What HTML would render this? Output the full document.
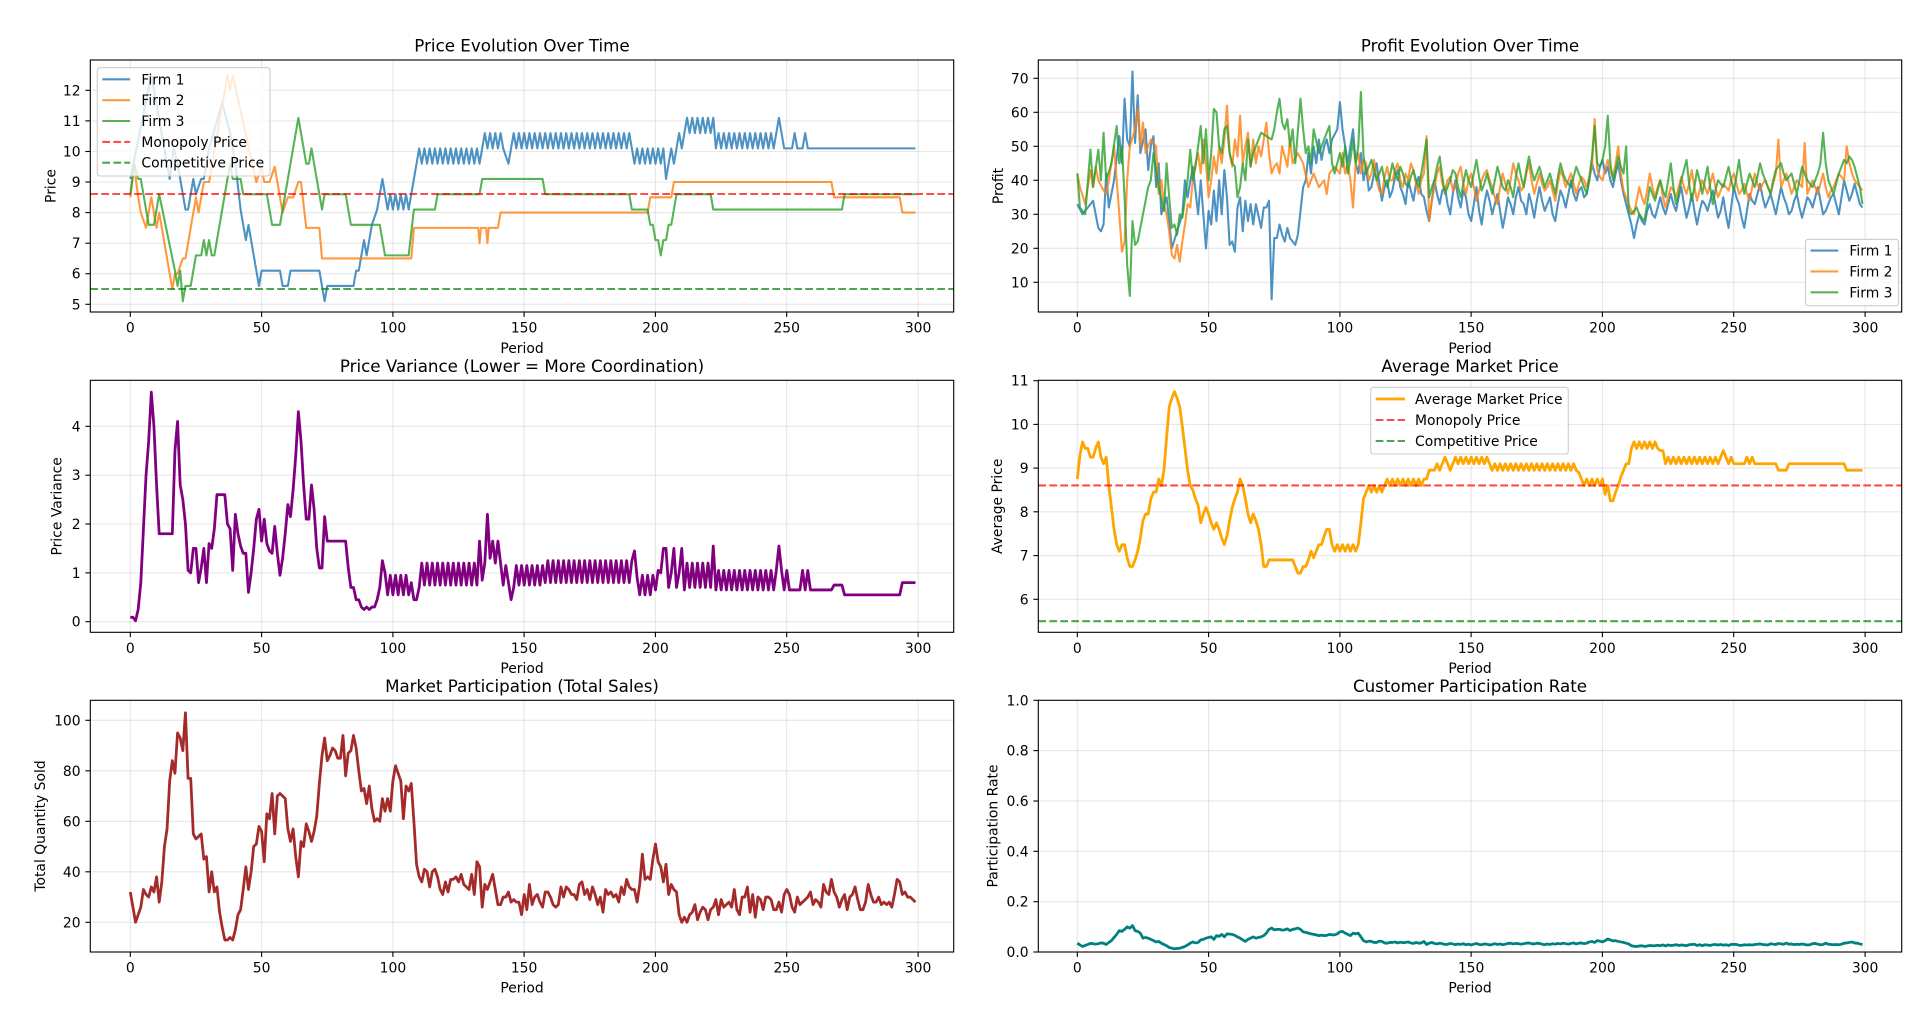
<!DOCTYPE html>
<html><head><meta charset="utf-8"><style>
html,body{margin:0;padding:0;background:#fff;}
svg{display:block;}
text{font-family:"DejaVu Sans","Liberation Sans",sans-serif;fill:#000;}
.tk{font-size:13.9px;}
.ttl{font-size:16.7px;}
.grid line{stroke:#b0b0b0;stroke-opacity:.3;stroke-width:1.1;}
.tick line{stroke:#000;stroke-width:1.1;}
.frame{fill:none;stroke:#000;stroke-width:1.1;}
.ln{fill:none;vector-effect:non-scaling-stroke;stroke-linejoin:round;stroke-linecap:butt;}
</style></head><body>
<svg width="1920" height="1015" viewBox="0 0 1920 1015" xmlns="http://www.w3.org/2000/svg">
<rect width="1920" height="1015" fill="#fff"/>
<defs>
<clipPath id="cA"><rect x="90.3" y="60" width="863.4" height="252"/></clipPath>
<clipPath id="cB"><rect x="1038.3" y="60" width="863.4" height="252"/></clipPath>
<clipPath id="cC"><rect x="90.3" y="380.3" width="863.4" height="252"/></clipPath>
<clipPath id="cD"><rect x="1038.3" y="380.3" width="863.4" height="252"/></clipPath>
<clipPath id="cE"><rect x="90.3" y="700.3" width="863.4" height="251.7"/></clipPath>
<clipPath id="cF"><rect x="1038.3" y="700.3" width="863.4" height="251.7"/></clipPath>
</defs>

<!-- ============ A: Price Evolution ============ -->
<g class="grid">
<line x1="130.3" y1="60" x2="130.3" y2="312"/><line x1="261.6" y1="60" x2="261.6" y2="312"/><line x1="392.9" y1="60" x2="392.9" y2="312"/><line x1="524.1" y1="60" x2="524.1" y2="312"/><line x1="655.4" y1="60" x2="655.4" y2="312"/><line x1="786.7" y1="60" x2="786.7" y2="312"/><line x1="918.1" y1="60" x2="918.1" y2="312"/>
<line x1="90.3" y1="304.3" x2="953.7" y2="304.3"/><line x1="90.3" y1="273.7" x2="953.7" y2="273.7"/><line x1="90.3" y1="243.2" x2="953.7" y2="243.2"/><line x1="90.3" y1="212.6" x2="953.7" y2="212.6"/><line x1="90.3" y1="182" x2="953.7" y2="182"/><line x1="90.3" y1="151.5" x2="953.7" y2="151.5"/><line x1="90.3" y1="120.9" x2="953.7" y2="120.9"/><line x1="90.3" y1="90.3" x2="953.7" y2="90.3"/>
</g>
<g clip-path="url(#cA)">
<g transform="translate(130.3 457.15) scale(2.626 -30.57)">
<path class="ln" stroke="#1f77b4" stroke-opacity=".8" stroke-width="2.08" d="M0 9.1 L8 12.5 L15 9.1 L16.5 10.1 L18 9.6 L20 8.6 L21 8.1 L22 8.1 L24 9.1 L25 8.6 L27 9.1 L28 9.1 L30 10.1 L35 11.6 L38 10.6 L40 9.6 L42 8.1 L44 7.1 L45 7.6 L49 5.6 L50 6.1 L57 6.1 L58 5.6 L60 5.6 L61 6.1 L72 6.1 L74 5.1 L75 5.6 L85 5.6 L86 6.1 L87 6.1 L89 7.1 L90 6.6 L92 7.6 L94 8.1 L96 9.1 L98 8.1 l1 .5 1 -.5 1 .5 1 -.5 1 .5 1 -.5 1 .5 1 -.5 L107 8.6 L110 10.1 l1 -.5 1 .5 1 -.5 1 .5 1 -.5 1 .5 1 -.5 1 .5 1 -.5 1 .5 1 -.5 1 .5 1 -.5 1 .5 1 -.5 1 .5 1 -.5 1 .5 1 -.5 1 .5 1 -.5 1 .5 1 -.5 1 .5 L135 10.6 l1 -.5 1 .5 1 -.5 1 .5 1 -.5 1 .5 L142 10.1 L144 9.6 L146 10.6 l1 -.5 1 .5 1 -.5 1 .5 1 -.5 1 .5 1 -.5 1 .5 1 -.5 1 .5 1 -.5 1 .5 1 -.5 1 .5 1 -.5 1 .5 1 -.5 1 .5 1 -.5 1 .5 1 -.5 1 .5 1 -.5 1 .5 1 -.5 1 .5 1 -.5 1 .5 1 -.5 1 .5 1 -.5 1 .5 1 -.5 1 .5 1 -.5 1 .5 1 -.5 1 .5 1 -.5 1 .5 1 -.5 1 .5 1 -.5 1 .5 L191 10.1 l1 -.5 1 .5 1 -.5 1 .5 1 -.5 1 .5 1 -.5 1 .5 1 -.5 1 .5 1 -.5 1 .5 L204 9.1 L206 10.1 L207 9.6 L209 10.6 L210 10.1 L212 11.1 l1 -.5 1 .5 1 -.5 1 .5 1 -.5 1 .5 1 -.5 1 .5 1 -.5 1 .5 L223 10.1 l1 .5 1 -.5 1 .5 1 -.5 1 .5 1 -.5 1 .5 1 -.5 1 .5 1 -.5 1 .5 1 -.5 1 .5 1 -.5 1 .5 1 -.5 1 .5 1 -.5 1 .5 1 -.5 1 .5 1 -.5 L247 11.1 L249 10.1 L252 10.1 L253 10.6 L254 10.1 L256 10.1 L257 10.6 L258 10.1 L299 10.1"/>
<path class="ln" stroke="#ff7f0e" stroke-opacity=".8" stroke-width="2.08" d="M0 8.5 L1.5 9.5 L3 8.5 L4 8 L6 7.5 L8 8.5 L10 7.5 L11 8 L16 5.5 L17 6 L18 6 L20 6.5 L21 6.5 L25 8.5 L26 8 L28 9 L30 9 L37 12.5 L38 12 L39 12.5 L48 9 L50 9.5 L51 9 L53 9 L55 9.5 L58 8 L60 8.5 L62 8.5 L64 9 L65 9 L67 7.5 L72 7.5 L73 6.5 L107 6.5 L108 7.5 L132.5 7.5 L133 7 L133.5 7.5 L135.5 7.5 L136 7 L136.5 7.5 L140 7.5 L141 8 L197 8 L198 8.5 L206 8.5 L207 9 L267 9 L268 8.5 L293 8.5 L294 8 L299 8"/>
<path class="ln" stroke="#2ca02c" stroke-opacity=".8" stroke-width="2.08" d="M0 8.6 L1.5 9.6 L3 9.1 L4 9.1 L5 8.6 L7 7.6 L9 7.6 L11 8.6 L17 6.1 L18 5.6 L19 6.1 L20 5.1 L21 5.6 L23 5.6 L25 6.6 L27 6.6 L28 7.1 L29 6.6 L30 7.1 L31 6.6 L32 6.6 L38 9.6 L39 9.1 L42 9.1 L43 8.6 L52 8.6 L54 7.6 L57 7.6 L64 11.1 L67 9.6 L68 9.6 L69 10.1 L73 8.1 L74 8.6 L82 8.6 L84 7.6 L95 7.6 L97 6.6 L106 6.6 L108 8.1 L116 8.1 L117 8.6 L133 8.6 L134 9.1 L157 9.1 L158 8.6 L190 8.6 L191 8.1 L197 8.1 L198 7.6 L199 7.6 L200 7.1 L201 7.1 L202 6.6 L203 7.1 L204 7.1 L205 7.6 L206 7.6 L208 8.6 L221 8.6 L222 8.1 L271 8.1 L272 8.6 L299 8.6"/>
</g>
<line x1="90.3" y1="194" x2="953.7" y2="194" stroke="#ff0000" stroke-opacity=".7" stroke-width="2.08" stroke-dasharray="7.7 3.3"/>
<line x1="90.3" y1="289" x2="953.7" y2="289" stroke="#008000" stroke-opacity=".7" stroke-width="2.08" stroke-dasharray="7.7 3.3"/>
</g>
<rect class="frame" x="90.3" y="60" width="863.4" height="252"/>
<g class="tick">
<line x1="130.3" y1="312" x2="130.3" y2="316.9"/><line x1="261.6" y1="312" x2="261.6" y2="316.9"/><line x1="392.9" y1="312" x2="392.9" y2="316.9"/><line x1="524.1" y1="312" x2="524.1" y2="316.9"/><line x1="655.4" y1="312" x2="655.4" y2="316.9"/><line x1="786.7" y1="312" x2="786.7" y2="316.9"/><line x1="918.1" y1="312" x2="918.1" y2="316.9"/>
<line x1="85.4" y1="304.3" x2="90.3" y2="304.3"/><line x1="85.4" y1="273.7" x2="90.3" y2="273.7"/><line x1="85.4" y1="243.2" x2="90.3" y2="243.2"/><line x1="85.4" y1="212.6" x2="90.3" y2="212.6"/><line x1="85.4" y1="182" x2="90.3" y2="182"/><line x1="85.4" y1="151.5" x2="90.3" y2="151.5"/><line x1="85.4" y1="120.9" x2="90.3" y2="120.9"/><line x1="85.4" y1="90.3" x2="90.3" y2="90.3"/>
</g>
<g class="tk" text-anchor="middle">
<text x="130.3" y="332.5">0</text><text x="261.6" y="332.5">50</text><text x="392.9" y="332.5">100</text><text x="524.1" y="332.5">150</text><text x="655.4" y="332.5">200</text><text x="786.7" y="332.5">250</text><text x="918.1" y="332.5">300</text>
</g>
<g class="tk" text-anchor="end">
<text x="80.6" y="309.3">5</text><text x="80.6" y="278.7">6</text><text x="80.6" y="248.2">7</text><text x="80.6" y="217.6">8</text><text x="80.6" y="187">9</text><text x="80.6" y="156.5">10</text><text x="80.6" y="125.9">11</text><text x="80.6" y="95.3">12</text>
</g>
<text class="ttl" x="522" y="51.7" text-anchor="middle">Price Evolution Over Time</text>
<text class="tk" x="522" y="353" text-anchor="middle">Period</text>
<text class="tk" transform="translate(55.5 186) rotate(-90)" text-anchor="middle">Price</text>
<!-- legend A -->
<rect x="97.3" y="67.7" width="172.7" height="108.3" rx="2.8" fill="#fff" fill-opacity=".8" stroke="#cccccc" stroke-width="1.1"/>
<line x1="102.3" y1="79.3" x2="130.1" y2="79.3" stroke="#1f77b4" stroke-opacity=".8" stroke-width="2.08"/>
<line x1="102.3" y1="100.2" x2="130.1" y2="100.2" stroke="#ff7f0e" stroke-opacity=".8" stroke-width="2.08"/>
<line x1="102.3" y1="121" x2="130.1" y2="121" stroke="#2ca02c" stroke-opacity=".8" stroke-width="2.08"/>
<line x1="102.3" y1="141.9" x2="130.1" y2="141.9" stroke="#ff0000" stroke-opacity=".7" stroke-width="2.08" stroke-dasharray="7.7 3.3"/>
<line x1="102.3" y1="162.7" x2="130.1" y2="162.7" stroke="#008000" stroke-opacity=".7" stroke-width="2.08" stroke-dasharray="7.7 3.3"/>
<g class="tk"><text x="141.4" y="84.3">Firm 1</text><text x="141.4" y="105.2">Firm 2</text><text x="141.4" y="126">Firm 3</text><text x="141.4" y="146.9">Monopoly Price</text><text x="141.4" y="167.7">Competitive Price</text></g>

<!-- ============ B: Profit Evolution ============ -->
<g class="grid">
<line x1="1077.3" y1="60" x2="1077.3" y2="312"/><line x1="1208.6" y1="60" x2="1208.6" y2="312"/><line x1="1339.9" y1="60" x2="1339.9" y2="312"/><line x1="1471.1" y1="60" x2="1471.1" y2="312"/><line x1="1602.4" y1="60" x2="1602.4" y2="312"/><line x1="1733.7" y1="60" x2="1733.7" y2="312"/><line x1="1865.1" y1="60" x2="1865.1" y2="312"/>
<line x1="1038.3" y1="282.3" x2="1901.7" y2="282.3"/><line x1="1038.3" y1="248.3" x2="1901.7" y2="248.3"/><line x1="1038.3" y1="214.3" x2="1901.7" y2="214.3"/><line x1="1038.3" y1="180.3" x2="1901.7" y2="180.3"/><line x1="1038.3" y1="146.3" x2="1901.7" y2="146.3"/><line x1="1038.3" y1="112.3" x2="1901.7" y2="112.3"/><line x1="1038.3" y1="78.3" x2="1901.7" y2="78.3"/>
</g>
<g clip-path="url(#cB)">
<g transform="translate(1077.3 316.3) scale(2.626 -3.4)">
<path class="ln" stroke="#1f77b4" stroke-opacity=".8" stroke-width="2.08" d="M0 33 2 30 4 32 6 34 8 26 9 25 10 27 11 42 12 32 14 40 16 53 17 45 18 64 19 52 20 50 21 72 22 51 23 65 24 48 26 55 27 43 28 50 29 53 30 38 31 45 32 30 34 35 35 28 36 20 38 25 40 30 41 40 42 35 44 44 46 30 47 40 49 20 50 31 51 27 52 37 53 28 54 40 55 30 56 43 57 35 58 21 59 22 60 19 61 32 62 35 63 25 64 34 65 28 66 33 67 27 68 33 70 26 71 32 72 32 73 34 74 5 75 23 76 23 77 27 78 24 79 22 80 26 81 23 83 21 84 24 86 38 87 40 88 48 89 42 90 50 91 45 92 52 93 46 94 50 95 52 96 48 97 52 99 55 100 63 101 55 103 45 104 50 105 55 106 45 107 42 108 48 109 40 110 44 111 37 112 38 113 42 114 45 115 39 116 34 117 38 118 40 119 35 120 37 121 41 122 43 123 38 124 36 125 33 126 40 127 37 128 34 129 39 130 41 131 36 132 35 133 31 134 28 135 34 136 40 137 36 138 33 139 37 140 38 141 33 142 30 143 36 144 40 145 35 146 32 147 37 148 35 149 30 150 28 151 33 152 38 153 31 154 27 155 33 156 37 157 34 158 30 159 33 160 36 161 31 162 26 163 30 164 35 165 33 166 30 167 35 168 38 169 34 170 33 171 30 172 36 173 33 174 29 175 34 176 38 177 34 178 31 179 33 180 35 181 30 182 28 183 33 184 37 185 35 186 32 187 36 188 40 189 36 190 34 191 37 192 38 193 35 194 36 195 40 196 45 197 42 198 40 199 44 200 46 201 42 202 44 203 40 204 38 205 42 206 45 207 40 208 36 209 33 210 30 211 27 212 23 213 27 214 30 215 28 216 27 217 31 218 33 219 30 220 29 221 32 222 35 223 32 224 30 225 33 226 36 227 33 228 31 229 35 230 38 231 33 232 29 233 32 234 36 235 31 236 27 237 31 238 34 239 33 240 31 241 34 242 37 243 33 244 29 245 31 246 35 247 30 248 26 249 32 250 38 251 35 252 33 253 29 254 26 255 31 256 36 257 34 258 33 259 36 260 39 261 35 262 32 263 34 264 36 265 33 266 30 267 34 268 38 269 35 270 33 271 30 272 31 273 34 274 36 275 32 276 29 277 32 278 35 279 34 280 32 281 35 282 38 283 34 284 30 285 31 286 33 287 35 288 36 289 33 290 30 291 35 292 40 293 37 294 34 295 36 296 39 297 36 298 33 299 32"/>
<path class="ln" stroke="#ff7f0e" stroke-opacity=".8" stroke-width="2.08" d="M0 42 1 38 3 33 5 43 6 38 7 44 8 40 10 37 11 36 12 40 13 45 14 50 15 40 16 30 17 19 18 22 19 40 20 50 22 55 23 61 24 50 25 57 26 48 28 52 30 50 31 36 32 40 33 33 34 30 35 25 36 18 37 17 38 21 39 16 40 22 41 27 42 33 43 32 44 40 45 45 46 48 47 42 48 52 49 45 50 35 51 40 52 47 53 42 54 50 55 45 56 52 57 62 58 48 59 44 60 52 61 47 62 59 63 45 64 50 65 54 66 44 67 52 68 45 69 50 70 47 71 52 72 57 73 48 74 42 75 44 76 45 77 42 78 50 79 47 80 44 81 52 82 45 84 48 86 45 88 38 90 42 92 38 94 40 95 36 96 42 98 44 100 42 101 48 102 42 103 45 104 40 105 32 106 45 107 48 108 42 109 46 110 45 111 40 112 42 113 46 114 40 115 37 116 36 117 41 118 44 119 40 120 40 121 43 122 45 123 40 124 38 125 42 126 40 127 45 128 43 129 39 130 36 131 40 132 42 133 53 134 28 135 34 136 38 137 42 138 44 139 39 140 37 141 40 142 41 143 37 144 38 145 42 146 44 147 39 148 36 149 40 150 42 151 38 152 34 153 37 154 40 155 42 156 43 157 40 158 38 159 35 160 33 161 38 162 42 163 39 164 36 165 40 166 45 167 42 168 40 169 37 170 38 171 42 172 45 173 40 174 36 175 39 176 42 177 39 178 37 179 38 180 40 181 37 182 34 183 39 184 43 185 41 186 38 187 40 188 42 189 39 190 36 191 39 192 41 193 40 194 38 195 41 196 44 197 58 198 43 199 41 200 40 201 43 202 46 203 43 204 41 205 45 206 50 207 42 208 37 209 35 210 33 211 31 212 30 213 34 214 38 215 35 216 33 217 37 218 42 219 38 220 35 221 38 222 40 223 35 224 32 225 35 226 38 227 37 228 35 229 38 230 41 231 38 232 36 233 39 234 43 235 38 236 34 237 37 238 40 239 38 240 36 241 39 242 42 243 38 244 35 245 37 246 39 247 38 248 37 249 40 250 42 251 39 252 36 253 37 254 39 255 36 256 34 257 38 258 42 259 39 260 37 261 39 262 40 263 38 264 36 265 39 266 42 267 52 268 38 269 40 270 42 271 39 272 36 273 38 274 40 275 39 276 38 277 51 278 36 279 38 280 40 281 38 282 36 283 39 284 42 285 38 286 35 287 37 288 38 289 40 290 42 291 41 292 40 293 50 294 45 295 42 296 40 297 39 298 38 299 37"/>
<path class="ln" stroke="#2ca02c" stroke-opacity=".8" stroke-width="2.08" d="M0 42 1 32 3 30 5 49 6 38 8 49 9 40 10 54 11 40 13 45 15 56 16 45 17 50 18 35 19 15 20 6 21 28 22 21 23 22 25 30 27 38 28 40 29 48 31 38 33 31 34 45 35 35 36 26 37 27 38 24 39 30 40 29 42 40 43 49 44 40 45 44 47 56 48 45 49 55 50 40 51 48 52 61 53 60 54 50 55 48 56 55 57 56 58 48 59 45 60 44 61 35 62 38 63 45 64 40 65 52 66 44 67 48 68 50 70 54 72 53 74 52 75 55 76 60 77 64 78 57 79 55 80 58 81 50 82 55 83 45 85 64 86 55 87 48 88 50 89 45 90 55 92 48 94 52 96 56 97 45 98 42 100 48 101 44 102 50 103 42 104 46 105 52 106 45 107 50 108 66 109 47 110 42 111 44 112 46 113 43 114 40 115 42 116 44 117 40 118 38 119 41 120 45 121 42 122 40 123 44 124 42 125 39 126 38 127 41 128 43 129 40 130 38 131 42 132 47 133 52 134 35 135 38 136 40 137 44 138 47 139 41 140 36 141 38 142 40 143 43 144 42 145 38 146 35 147 39 148 43 149 40 150 38 151 42 152 46 153 41 154 37 155 39 156 42 157 39 158 36 159 40 160 44 161 41 162 38 163 37 164 40 165 38 166 35 167 41 168 45 169 41 170 38 171 43 172 47 173 43 174 40 175 42 176 44 177 41 178 38 179 40 180 42 181 39 182 36 183 41 184 45 185 42 186 40 187 39 188 38 189 41 190 44 191 42 192 40 193 38 194 36 195 41 196 47 197 56 198 45 199 44 200 46 201 50 202 59 203 45 204 40 205 43 206 47 207 44 208 42 209 50 210 31 211 30 212 31 213 32 214 30 215 29 216 28 217 33 218 38 219 36 220 34 221 37 222 40 223 37 224 35 225 40 226 45 227 38 228 33 229 36 230 40 231 43 232 46 233 39 234 34 235 38 236 43 237 40 238 36 239 40 240 44 241 38 242 33 243 37 244 40 245 39 246 38 247 41 248 44 249 40 250 37 251 41 252 46 253 40 254 36 255 39 256 42 257 40 258 38 259 41 260 45 261 42 262 40 263 38 264 36 265 40 266 43 267 44 268 45 269 42 270 40 271 41 272 42 273 39 274 36 275 40 276 44 277 42 278 40 279 39 280 38 281 40 282 42 283 45 284 54 285 45 286 40 287 38 288 36 289 39 290 42 291 44 292 46 293 45 294 47 295 46 296 44 297 41 298 38 299 33"/>
</g>
</g>
<rect class="frame" x="1038.3" y="60" width="863.4" height="252"/>
<g class="tick">
<line x1="1077.3" y1="312" x2="1077.3" y2="316.9"/><line x1="1208.6" y1="312" x2="1208.6" y2="316.9"/><line x1="1339.9" y1="312" x2="1339.9" y2="316.9"/><line x1="1471.1" y1="312" x2="1471.1" y2="316.9"/><line x1="1602.4" y1="312" x2="1602.4" y2="316.9"/><line x1="1733.7" y1="312" x2="1733.7" y2="316.9"/><line x1="1865.1" y1="312" x2="1865.1" y2="316.9"/>
<line x1="1033.4" y1="282.3" x2="1038.3" y2="282.3"/><line x1="1033.4" y1="248.3" x2="1038.3" y2="248.3"/><line x1="1033.4" y1="214.3" x2="1038.3" y2="214.3"/><line x1="1033.4" y1="180.3" x2="1038.3" y2="180.3"/><line x1="1033.4" y1="146.3" x2="1038.3" y2="146.3"/><line x1="1033.4" y1="112.3" x2="1038.3" y2="112.3"/><line x1="1033.4" y1="78.3" x2="1038.3" y2="78.3"/>
</g>
<g class="tk" text-anchor="middle">
<text x="1077.3" y="332.5">0</text><text x="1208.6" y="332.5">50</text><text x="1339.9" y="332.5">100</text><text x="1471.1" y="332.5">150</text><text x="1602.4" y="332.5">200</text><text x="1733.7" y="332.5">250</text><text x="1865.1" y="332.5">300</text>
</g>
<g class="tk" text-anchor="end">
<text x="1028.6" y="287.3">10</text><text x="1028.6" y="253.3">20</text><text x="1028.6" y="219.3">30</text><text x="1028.6" y="185.3">40</text><text x="1028.6" y="151.3">50</text><text x="1028.6" y="117.3">60</text><text x="1028.6" y="83.3">70</text>
</g>
<text class="ttl" x="1470" y="51.7" text-anchor="middle">Profit Evolution Over Time</text>
<text class="tk" x="1470" y="353" text-anchor="middle">Period</text>
<text class="tk" transform="translate(1003 186) rotate(-90)" text-anchor="middle">Profit</text>
<rect x="1805.5" y="239.3" width="93" height="66.4" rx="2.8" fill="#fff" fill-opacity=".8" stroke="#cccccc" stroke-width="1.1"/>
<line x1="1810.5" y1="250.6" x2="1838.3" y2="250.6" stroke="#1f77b4" stroke-opacity=".8" stroke-width="2.08"/>
<line x1="1810.5" y1="271.4" x2="1838.3" y2="271.4" stroke="#ff7f0e" stroke-opacity=".8" stroke-width="2.08"/>
<line x1="1810.5" y1="292.3" x2="1838.3" y2="292.3" stroke="#2ca02c" stroke-opacity=".8" stroke-width="2.08"/>
<g class="tk"><text x="1849.4" y="255.6">Firm 1</text><text x="1849.4" y="276.4">Firm 2</text><text x="1849.4" y="297.3">Firm 3</text></g>

<!-- ============ C: Price Variance ============ -->
<g class="grid">
<line x1="130.3" y1="380.3" x2="130.3" y2="632.3"/><line x1="261.6" y1="380.3" x2="261.6" y2="632.3"/><line x1="392.9" y1="380.3" x2="392.9" y2="632.3"/><line x1="524.1" y1="380.3" x2="524.1" y2="632.3"/><line x1="655.4" y1="380.3" x2="655.4" y2="632.3"/><line x1="786.7" y1="380.3" x2="786.7" y2="632.3"/><line x1="918.1" y1="380.3" x2="918.1" y2="632.3"/>
<line x1="90.3" y1="621.7" x2="953.7" y2="621.7"/><line x1="90.3" y1="572.9" x2="953.7" y2="572.9"/><line x1="90.3" y1="524" x2="953.7" y2="524"/><line x1="90.3" y1="475.2" x2="953.7" y2="475.2"/><line x1="90.3" y1="426.3" x2="953.7" y2="426.3"/>
</g>
<g clip-path="url(#cC)">
<g transform="translate(130.3 621.7) scale(2.626 -48.85)">
<path class="ln" stroke="#800080" stroke-width="2.78" d="M0 .09 L1 .09 L2 .02 L3 .25 L4 .8 L5 1.9 L6 3 L7 3.7 L8 4.7 L9 4 L10 2.8 L11 1.8 L16 1.8 L17 3.5 L18 4.1 L19 2.8 L20 2.5 L21 2 L22 1.05 L23 1 L24 1.5 L25 1.5 L26 .8 L27 1.1 L28 1.5 L29 .8 L30 1.6 L31 1.5 L32 1.9 L33 2.6 L36 2.6 L37 2 L38 1.9 L39 1.05 L40 2.2 L41 1.8 L42 1.55 L43 1.4 L44 1.4 L45 .6 L46 1 L47 1.5 L48 2.1 L49 2.3 L50 1.65 L51 2.1 L52 1.6 L53 1.45 L54 1.4 L55 1.95 L56 1.4 L57 .95 L58 1.3 L59 1.8 L60 2.4 L61 2.15 L62 2.7 L63 3.4 L64 4.3 L65 3.7 L66 2.8 L67 2.1 L68 2.1 L69 2.8 L70 2.3 L71 1.5 L72 1.1 L73 1.1 L74 2.15 L75 1.65 L82 1.65 L83 1.1 L84 .7 L85 .7 L86 .45 L87 .45 L88 .3 L89 .25 L90 .3 L91 .25 L92 .3 L93 .3 L94 .45 L95 .7 L96 1.25 L97 1 L98 .55 l1 .4 1 -.4 1 .4 1 -.4 1 .4 1 -.4 1 .4 1 -.4 L107 .8 L108 .45 L109 .45 L110 .7 L111 1.2 l1 -.45 1 .45 1 -.45 1 .45 1 -.45 1 .45 1 -.45 1 .45 1 -.45 1 .45 1 -.45 1 .45 1 -.45 1 .45 1 -.45 1 .45 1 -.45 1 .45 1 -.45 1 .45 L132 .75 L133 1.65 L134 .85 L135 1.2 L136 2.2 L137 1.3 L138 1.65 L139 1.2 L140 1.65 L141 1.2 L142 .75 L143 1.15 L144 .8 L145 .45 L146 .7 L147 1.15 l1 -.4 1 .4 1 -.4 1 .4 1 -.4 1 .4 1 -.4 1 .4 1 -.4 1 .4 L158 .8 L159 1.25 l1 -.45 1 .45 1 -.45 1 .45 1 -.45 1 .45 1 -.45 1 .45 1 -.45 1 .45 1 -.45 1 .45 1 -.45 1 .45 1 -.45 1 .45 1 -.45 1 .45 1 -.45 1 .45 1 -.45 1 .45 1 -.45 1 .45 1 -.45 1 .45 1 -.45 1 .45 1 -.45 1 .45 1 -.45 1 .45 L192 1.45 L193 .9 L194 .55 L195 .95 L196 .55 L197 .95 L198 .55 L199 .95 L200 .65 L201 1.05 L202 1 L203 1.5 L204 1.5 L205 .7 L206 1 L207 1.5 L208 .7 L209 1 L210 1.5 L211 .65 L212 1.2 l1 -.5 1 .5 1 -.5 1 .5 1 -.5 1 .5 1 -.5 1 .5 L221 .7 L222 1.55 L223 .65 L224 1.05 l1 -.4 1 .4 1 -.4 1 .4 1 -.4 1 .4 1 -.4 1 .4 1 -.4 1 .4 1 -.4 1 .4 1 -.4 1 .4 1 -.4 1 .4 1 -.4 1 .4 1 -.4 1 .4 1 -.4 1 .4 L247 1.55 L248 1.05 L249 .65 L250 1.05 L251 .65 L255 .65 L256 1.05 L257 .65 L258 1.05 L259 .65 L267 .65 L268 .75 L271 .75 L272 .55 L293 .55 L294 .8 L299 .8"/>
</g>
</g>
<rect class="frame" x="90.3" y="380.3" width="863.4" height="252"/>
<g class="tick">
<line x1="130.3" y1="632.3" x2="130.3" y2="637.2"/><line x1="261.6" y1="632.3" x2="261.6" y2="637.2"/><line x1="392.9" y1="632.3" x2="392.9" y2="637.2"/><line x1="524.1" y1="632.3" x2="524.1" y2="637.2"/><line x1="655.4" y1="632.3" x2="655.4" y2="637.2"/><line x1="786.7" y1="632.3" x2="786.7" y2="637.2"/><line x1="918.1" y1="632.3" x2="918.1" y2="637.2"/>
<line x1="85.4" y1="621.7" x2="90.3" y2="621.7"/><line x1="85.4" y1="572.9" x2="90.3" y2="572.9"/><line x1="85.4" y1="524" x2="90.3" y2="524"/><line x1="85.4" y1="475.2" x2="90.3" y2="475.2"/><line x1="85.4" y1="426.3" x2="90.3" y2="426.3"/>
</g>
<g class="tk" text-anchor="middle">
<text x="130.3" y="652.8">0</text><text x="261.6" y="652.8">50</text><text x="392.9" y="652.8">100</text><text x="524.1" y="652.8">150</text><text x="655.4" y="652.8">200</text><text x="786.7" y="652.8">250</text><text x="918.1" y="652.8">300</text>
</g>
<g class="tk" text-anchor="end">
<text x="80.6" y="626.7">0</text><text x="80.6" y="577.9">1</text><text x="80.6" y="529">2</text><text x="80.6" y="480.2">3</text><text x="80.6" y="431.3">4</text>
</g>
<text class="ttl" x="522" y="372" text-anchor="middle">Price Variance (Lower = More Coordination)</text>
<text class="tk" x="522" y="673" text-anchor="middle">Period</text>
<text class="tk" transform="translate(61.6 506.3) rotate(-90)" text-anchor="middle">Price Variance</text>

<!-- ============ D: Average Market Price ============ -->
<g class="grid">
<line x1="1077.3" y1="380.3" x2="1077.3" y2="632.3"/><line x1="1208.6" y1="380.3" x2="1208.6" y2="632.3"/><line x1="1339.9" y1="380.3" x2="1339.9" y2="632.3"/><line x1="1471.1" y1="380.3" x2="1471.1" y2="632.3"/><line x1="1602.4" y1="380.3" x2="1602.4" y2="632.3"/><line x1="1733.7" y1="380.3" x2="1733.7" y2="632.3"/><line x1="1865.1" y1="380.3" x2="1865.1" y2="632.3"/>
<line x1="1038.3" y1="599.3" x2="1901.7" y2="599.3"/><line x1="1038.3" y1="555.6" x2="1901.7" y2="555.6"/><line x1="1038.3" y1="511.8" x2="1901.7" y2="511.8"/><line x1="1038.3" y1="468.1" x2="1901.7" y2="468.1"/><line x1="1038.3" y1="424.4" x2="1901.7" y2="424.4"/>
</g>
<g clip-path="url(#cD)">
<g transform="translate(1077.3 861.68) scale(2.626 -43.73)">
<path class="ln" stroke="#ffa500" stroke-width="2.78" d="M0 8.75 L1 9.3 L2 9.6 L3 9.45 L4 9.45 L5 9.25 L6 9.25 L7 9.45 L8 9.6 L9 9.25 L10 9.1 L11 9.25 L12 8.6 L13 8.1 L14 7.6 L15 7.25 L16 7.1 L17 7.25 L18 7.25 L19 6.95 L20 6.75 L21 6.75 L22 6.9 L23 7.1 L24 7.4 L25 7.8 L26 7.95 L27 7.95 L28 8.3 L29 8.45 L30 8.45 L31 8.75 L32 8.6 L33 8.95 L34 9.7 L35 10.4 L36 10.6 L37 10.75 L38 10.6 L39 10.4 L40 9.95 L41 9.45 L42 8.95 L43 8.6 L44 8.5 L45 8.3 L46 8.15 L47 7.75 L48 7.95 L49 8.1 L50 7.95 L51 7.75 L52 7.6 L53 7.75 L54 7.6 L55 7.4 L56 7.25 L57 7.45 L58 7.8 L59 8.1 L60 8.3 L61 8.45 L62 8.75 L63 8.6 L64 8.3 L65 7.95 L66 7.75 L67 7.95 L68 7.8 L69 7.6 L70 7.25 L71 6.75 L72 6.75 L73 6.9 L82 6.9 L83 6.75 L84 6.6 L85 6.6 L86 6.75 L87 6.75 L88 6.9 L89 7.1 L90 6.95 L91 7.1 L92 7.25 L93 7.25 L94 7.45 L95 7.6 L96 7.6 L97 7.25 L98 7.1 L99 7.25 l1 -.15 1 .15 1 -.15 1 .15 1 -.15 1 .15 1 -.15 1 .15 L108 7.75 L109 8.3 L110 8.45 L111 8.6 l1 -.15 1 .15 1 -.15 1 .15 1 -.15 1 .15 L118 8.75 l1 -.15 1 .15 1 -.15 1 .15 1 -.15 1 .15 1 -.15 1 .15 1 -.15 1 .15 1 -.15 1 .15 1 -.15 1 .15 L133 8.75 L134 8.95 L136 8.95 L137 9.1 L138 8.95 L139 9.1 L140 9.25 L141 9.1 L142 8.95 L143 9.1 L144 9.25 L145 9.1 l1 .15 1 -.15 1 .15 1 -.15 1 .15 1 -.15 1 .15 1 -.15 1 .15 1 -.15 1 .15 1 -.15 L158 8.95 l1 .15 1 -.15 1 .15 1 -.15 1 .15 1 -.15 1 .15 1 -.15 1 .15 1 -.15 1 .15 1 -.15 1 .15 1 -.15 1 .15 1 -.15 1 .15 1 -.15 1 .15 1 -.15 1 .15 1 -.15 1 .15 1 -.15 1 .15 1 -.15 1 .15 1 -.15 1 .15 1 -.15 1 .15 1 -.15 L191 8.9 L192 8.75 l1 -.15 1 .15 1 -.15 1 .15 1 -.15 1 .15 1 -.15 1 .15 L201 8.4 L202 8.6 L203 8.25 L204 8.25 L205 8.45 L206 8.6 L207 8.8 L208 8.95 L209 9.1 L210 9.1 L211 9.45 L212 9.6 l1 -.15 1 .15 1 -.15 1 .15 1 -.15 1 .15 1 -.15 1 .15 L221 9.45 L222 9.4 L223 9.4 L224 9.1 L225 9.25 l1 -.15 1 .15 1 -.15 1 .15 1 -.15 1 .15 1 -.15 1 .15 1 -.15 1 .15 1 -.15 1 .15 1 -.15 1 .15 1 -.15 1 .15 1 -.15 1 .15 1 -.15 1 .15 L246 9.4 L247 9.25 L248 9.1 L249 9.25 L250 9.1 L254 9.1 L255 9.25 L256 9.1 L257 9.25 L258 9.1 L266 9.1 L267 8.95 L270 8.95 L271 9.1 L292 9.1 L293 8.95 L299 8.95"/>
</g>
<line x1="1038.3" y1="485.4" x2="1901.7" y2="485.4" stroke="#ff0000" stroke-opacity=".7" stroke-width="2.08" stroke-dasharray="7.7 3.3"/>
<line x1="1038.3" y1="621.2" x2="1901.7" y2="621.2" stroke="#008000" stroke-opacity=".7" stroke-width="2.08" stroke-dasharray="7.7 3.3"/>
</g>
<rect class="frame" x="1038.3" y="380.3" width="863.4" height="252"/>
<g class="tick">
<line x1="1077.3" y1="632.3" x2="1077.3" y2="637.2"/><line x1="1208.6" y1="632.3" x2="1208.6" y2="637.2"/><line x1="1339.9" y1="632.3" x2="1339.9" y2="637.2"/><line x1="1471.1" y1="632.3" x2="1471.1" y2="637.2"/><line x1="1602.4" y1="632.3" x2="1602.4" y2="637.2"/><line x1="1733.7" y1="632.3" x2="1733.7" y2="637.2"/><line x1="1865.1" y1="632.3" x2="1865.1" y2="637.2"/>
<line x1="1033.4" y1="599.3" x2="1038.3" y2="599.3"/><line x1="1033.4" y1="555.6" x2="1038.3" y2="555.6"/><line x1="1033.4" y1="511.8" x2="1038.3" y2="511.8"/><line x1="1033.4" y1="468.1" x2="1038.3" y2="468.1"/><line x1="1033.4" y1="424.4" x2="1038.3" y2="424.4"/><line x1="1033.4" y1="380.7" x2="1038.3" y2="380.7"/>
</g>
<g class="tk" text-anchor="middle">
<text x="1077.3" y="652.8">0</text><text x="1208.6" y="652.8">50</text><text x="1339.9" y="652.8">100</text><text x="1471.1" y="652.8">150</text><text x="1602.4" y="652.8">200</text><text x="1733.7" y="652.8">250</text><text x="1865.1" y="652.8">300</text>
</g>
<g class="tk" text-anchor="end">
<text x="1028.6" y="604.3">6</text><text x="1028.6" y="560.6">7</text><text x="1028.6" y="516.8">8</text><text x="1028.6" y="473.1">9</text><text x="1028.6" y="429.4">10</text><text x="1028.6" y="385.7">11</text>
</g>
<text class="ttl" x="1470" y="372" text-anchor="middle">Average Market Price</text>
<text class="tk" x="1470" y="673" text-anchor="middle">Period</text>
<text class="tk" transform="translate(1002 506.3) rotate(-90)" text-anchor="middle">Average Price</text>
<rect x="1370.7" y="387.3" width="197.6" height="66.7" rx="2.8" fill="#fff" fill-opacity=".8" stroke="#cccccc" stroke-width="1.1"/>
<line x1="1375.7" y1="399" x2="1405" y2="399" stroke="#ffa500" stroke-width="2.78"/>
<line x1="1375.7" y1="420" x2="1405" y2="420" stroke="#ff0000" stroke-opacity=".7" stroke-width="2.08" stroke-dasharray="7.7 3.3"/>
<line x1="1375.7" y1="441" x2="1405" y2="441" stroke="#008000" stroke-opacity=".7" stroke-width="2.08" stroke-dasharray="7.7 3.3"/>
<g class="tk"><text x="1415" y="404">Average Market Price</text><text x="1415" y="425">Monopoly Price</text><text x="1415" y="446">Competitive Price</text></g>

<!-- ============ E: Market Participation (Total Sales) ============ -->
<g class="grid">
<line x1="130.3" y1="700.3" x2="130.3" y2="952"/><line x1="261.6" y1="700.3" x2="261.6" y2="952"/><line x1="392.9" y1="700.3" x2="392.9" y2="952"/><line x1="524.1" y1="700.3" x2="524.1" y2="952"/><line x1="655.4" y1="700.3" x2="655.4" y2="952"/><line x1="786.7" y1="700.3" x2="786.7" y2="952"/><line x1="918.1" y1="700.3" x2="918.1" y2="952"/>
<line x1="90.3" y1="922.3" x2="953.7" y2="922.3"/><line x1="90.3" y1="871.8" x2="953.7" y2="871.8"/><line x1="90.3" y1="821.3" x2="953.7" y2="821.3"/><line x1="90.3" y1="770.8" x2="953.7" y2="770.8"/><line x1="90.3" y1="720.3" x2="953.7" y2="720.3"/>
</g>
<g clip-path="url(#cE)">
<g transform="translate(130.3 972.8) scale(2.626 -2.525)">
<path class="ln" stroke="#a52a2a" stroke-width="2.78" d="M0 32 1 26 2 20 3 23 4 26 5 33 6 31 7 30 8 34 9 32 10 38 11 28 12 36 13 50 14 57 15 76 16 84 17 79 18 95 19 93 20 88 21 103 22 77 23 77 24 55 25 53 26 54 27 55 28 45 29 46 30 32 31 40 32 32 33 34 34 24 35 18 36 13 37 13 38 14 39 13 40 17 41 23 42 25 43 33 44 42 45 33 46 40 47 50 48 51 49 58 50 56 51 44 52 63 53 61 54 71 55 55 56 70 57 71 58 70 59 69 60 57 61 52 62 57 63 46 64 38 65 52 66 50 67 59 68 56 69 52 70 56 71 62 72 75 73 86 74 93 75 84 76 86 77 89 78 88 79 85 80 85 81 94 82 78 83 87 84 88 85 94 86 89 87 80 88 72 89 73 90 67 91 74 92 65 93 60 94 61 95 60 96 69 97 64 98 69 99 64 100 76 101 82 102 79 103 76 104 61 105 74 106 72 107 75 108 60 109 43 110 38 111 36 112 41 113 40 114 34 115 40 116 41 117 38 118 33 119 31 120 36 121 32 122 37 123 37 124 38 125 36 126 39 127 35 128 34 129 33 130 39 131 31 132 44 133 42 134 26 135 35 136 33 137 36 138 39 139 33 140 27 141 27 142 30 143 30 144 32 145 28 146 29 147 28 148 28 149 23 150 31 151 25 152 35 153 27 154 30 155 31 156 28 157 26 158 32 159 32 160 30 161 27 162 26 163 27 164 34 165 30 166 34 167 33 168 31 169 31 170 29 171 35 172 36 173 31 174 33 175 29 176 34 177 31 178 27 179 30 180 24 181 33 182 31 183 32 184 30 185 31 186 28 187 34 188 31 189 37 190 34 191 33 192 33 193 28 194 35 195 47 196 37 197 38 198 37 199 45 200 51 201 44 202 42 203 36 204 43 205 31 206 35 207 33 208 32 209 23 210 20 211 22 212 20 213 23 214 24 215 27 216 21 217 24 218 26 219 25 220 21 221 25 222 26 223 29 224 23 225 29 226 26 227 27 228 28 229 26 230 33 231 25 232 23 233 30 234 30 235 34 236 24 237 31 238 22 239 30 240 29 241 25 242 30 243 30 244 29 245 25 246 25 247 28 248 24 249 31 250 33 251 31 252 26 253 24 254 30 255 27 256 28 257 29 258 30 259 32 260 27 261 29 262 28 263 26 264 35 265 32 266 31 267 37 268 32 269 30 270 26 271 29 272 31 273 25 274 30 275 31 276 34 277 29 278 25 279 25 280 28 281 35 282 31 283 28 284 28 285 30 286 27 287 28 288 27 289 28 290 26 291 31 292 37 293 36 294 31 295 32 296 30 297 30 298 29 299 28"/>
</g>
</g>
<rect class="frame" x="90.3" y="700.3" width="863.4" height="251.7"/>
<g class="tick">
<line x1="130.3" y1="952" x2="130.3" y2="956.9"/><line x1="261.6" y1="952" x2="261.6" y2="956.9"/><line x1="392.9" y1="952" x2="392.9" y2="956.9"/><line x1="524.1" y1="952" x2="524.1" y2="956.9"/><line x1="655.4" y1="952" x2="655.4" y2="956.9"/><line x1="786.7" y1="952" x2="786.7" y2="956.9"/><line x1="918.1" y1="952" x2="918.1" y2="956.9"/>
<line x1="85.4" y1="922.3" x2="90.3" y2="922.3"/><line x1="85.4" y1="871.8" x2="90.3" y2="871.8"/><line x1="85.4" y1="821.3" x2="90.3" y2="821.3"/><line x1="85.4" y1="770.8" x2="90.3" y2="770.8"/><line x1="85.4" y1="720.3" x2="90.3" y2="720.3"/>
</g>
<g class="tk" text-anchor="middle">
<text x="130.3" y="972.5">0</text><text x="261.6" y="972.5">50</text><text x="392.9" y="972.5">100</text><text x="524.1" y="972.5">150</text><text x="655.4" y="972.5">200</text><text x="786.7" y="972.5">250</text><text x="918.1" y="972.5">300</text>
</g>
<g class="tk" text-anchor="end">
<text x="80.6" y="927.3">20</text><text x="80.6" y="876.8">40</text><text x="80.6" y="826.3">60</text><text x="80.6" y="775.8">80</text><text x="80.6" y="725.3">100</text>
</g>
<text class="ttl" x="522" y="692" text-anchor="middle">Market Participation (Total Sales)</text>
<text class="tk" x="522" y="992.5" text-anchor="middle">Period</text>
<text class="tk" transform="translate(45 826) rotate(-90)" text-anchor="middle">Total Quantity Sold</text>

<!-- ============ F: Customer Participation Rate ============ -->
<g class="grid">
<line x1="1077.3" y1="700.3" x2="1077.3" y2="952"/><line x1="1208.6" y1="700.3" x2="1208.6" y2="952"/><line x1="1339.9" y1="700.3" x2="1339.9" y2="952"/><line x1="1471.1" y1="700.3" x2="1471.1" y2="952"/><line x1="1602.4" y1="700.3" x2="1602.4" y2="952"/><line x1="1733.7" y1="700.3" x2="1733.7" y2="952"/><line x1="1865.1" y1="700.3" x2="1865.1" y2="952"/>
<line x1="1038.3" y1="901.7" x2="1901.7" y2="901.7"/><line x1="1038.3" y1="851.3" x2="1901.7" y2="851.3"/><line x1="1038.3" y1="801" x2="1901.7" y2="801"/><line x1="1038.3" y1="750.6" x2="1901.7" y2="750.6"/>
</g>
<g clip-path="url(#cF)">
<g transform="translate(1077.3 952) scale(2.626 -251.7)">
<path class="ln" stroke="#008080" stroke-width="2.78" d="M0 .035 1 .028 2 .022 3 .026 4 .03 5 .034 6 .033 7 .031 8 .033 9 .036 10 .035 11 .03 12 .038 13 .045 14 .058 15 .07 16 .085 17 .082 18 .09 19 .1 20 .095 21 .105 22 .085 23 .082 24 .075 25 .055 26 .058 27 .055 28 .05 29 .045 30 .04 31 .042 32 .035 33 .03 34 .025 35 .018 36 .015 37 .013 38 .014 39 .015 40 .018 41 .022 42 .028 43 .035 44 .04 45 .036 46 .038 47 .048 48 .05 49 .055 50 .058 51 .06 52 .05 53 .065 54 .062 55 .07 56 .06 57 .072 58 .071 59 .07 60 .066 61 .06 62 .055 63 .048 64 .042 65 .05 66 .055 67 .06 68 .055 69 .058 70 .06 71 .065 72 .075 73 .09 74 .095 75 .088 76 .09 77 .09 78 .087 79 .088 80 .092 81 .085 82 .09 83 .092 84 .095 85 .09 86 .08 87 .078 88 .075 89 .072 90 .07 91 .068 92 .065 93 .067 94 .065 95 .066 96 .07 97 .068 98 .068 99 .072 100 .08 101 .082 102 .075 103 .07 104 .065 105 .075 106 .072 107 .075 108 .06 109 .045 110 .04 111 .043 112 .042 113 .038 114 .038 115 .043 116 .042 117 .036 118 .035 119 .038 120 .038 121 .04 122 .036 123 .039 124 .037 125 .038 126 .04 127 .036 128 .034 129 .038 130 .035 131 .036 132 .042 133 .03 134 .035 135 .038 136 .034 137 .032 138 .035 139 .033 140 .03 141 .031 142 .034 143 .032 144 .029 145 .032 146 .03 147 .033 148 .029 149 .031 150 .028 151 .031 152 .034 153 .03 154 .029 155 .032 156 .031 157 .028 158 .03 159 .033 160 .03 161 .032 162 .029 163 .031 164 .034 165 .035 166 .032 167 .034 168 .033 169 .031 170 .033 171 .035 172 .036 173 .033 174 .032 175 .035 176 .034 177 .031 178 .029 179 .032 180 .03 181 .033 182 .031 183 .034 184 .032 185 .035 186 .033 187 .031 188 .034 189 .036 190 .032 191 .035 192 .036 193 .033 194 .035 195 .04 196 .042 197 .038 198 .045 199 .043 200 .04 201 .045 202 .052 203 .048 204 .044 205 .045 206 .042 207 .04 208 .038 209 .035 210 .032 211 .025 212 .023 213 .022 214 .024 215 .025 216 .022 217 .024 218 .026 219 .025 220 .025 221 .027 222 .025 223 .028 224 .024 225 .028 226 .026 227 .027 228 .029 229 .026 230 .028 231 .027 232 .025 233 .029 234 .03 235 .031 236 .026 237 .029 238 .025 239 .029 240 .028 241 .026 242 .029 243 .03 244 .028 245 .03 246 .027 247 .029 248 .026 249 .03 250 .031 251 .03 252 .027 253 .026 254 .029 255 .028 256 .029 257 .028 258 .03 259 .031 260 .032 261 .03 262 .029 263 .028 264 .033 265 .031 266 .03 267 .034 268 .032 269 .031 270 .035 271 .031 272 .032 273 .029 274 .031 275 .03 276 .032 277 .03 278 .028 279 .029 280 .033 281 .034 282 .031 283 .029 284 .03 285 .035 286 .031 287 .03 288 .029 289 .03 290 .029 291 .031 292 .035 293 .036 294 .038 295 .04 296 .036 297 .035 298 .032 299 .03"/>
</g>
</g>
<rect class="frame" x="1038.3" y="700.3" width="863.4" height="251.7"/>
<g class="tick">
<line x1="1077.3" y1="952" x2="1077.3" y2="956.9"/><line x1="1208.6" y1="952" x2="1208.6" y2="956.9"/><line x1="1339.9" y1="952" x2="1339.9" y2="956.9"/><line x1="1471.1" y1="952" x2="1471.1" y2="956.9"/><line x1="1602.4" y1="952" x2="1602.4" y2="956.9"/><line x1="1733.7" y1="952" x2="1733.7" y2="956.9"/><line x1="1865.1" y1="952" x2="1865.1" y2="956.9"/>
<line x1="1033.4" y1="952" x2="1038.3" y2="952"/><line x1="1033.4" y1="901.7" x2="1038.3" y2="901.7"/><line x1="1033.4" y1="851.3" x2="1038.3" y2="851.3"/><line x1="1033.4" y1="801" x2="1038.3" y2="801"/><line x1="1033.4" y1="750.6" x2="1038.3" y2="750.6"/><line x1="1033.4" y1="700.3" x2="1038.3" y2="700.3"/>
</g>
<g class="tk" text-anchor="middle">
<text x="1077.3" y="972.5">0</text><text x="1208.6" y="972.5">50</text><text x="1339.9" y="972.5">100</text><text x="1471.1" y="972.5">150</text><text x="1602.4" y="972.5">200</text><text x="1733.7" y="972.5">250</text><text x="1865.1" y="972.5">300</text>
</g>
<g class="tk" text-anchor="end">
<text x="1028.6" y="957">0.0</text><text x="1028.6" y="906.7">0.2</text><text x="1028.6" y="856.3">0.4</text><text x="1028.6" y="806">0.6</text><text x="1028.6" y="755.6">0.8</text><text x="1028.6" y="705.3">1.0</text>
</g>
<text class="ttl" x="1470" y="692" text-anchor="middle">Customer Participation Rate</text>
<text class="tk" x="1470" y="992.5" text-anchor="middle">Period</text>
<text class="tk" transform="translate(997.6 826) rotate(-90)" text-anchor="middle">Participation Rate</text>
</svg>
</body></html>
